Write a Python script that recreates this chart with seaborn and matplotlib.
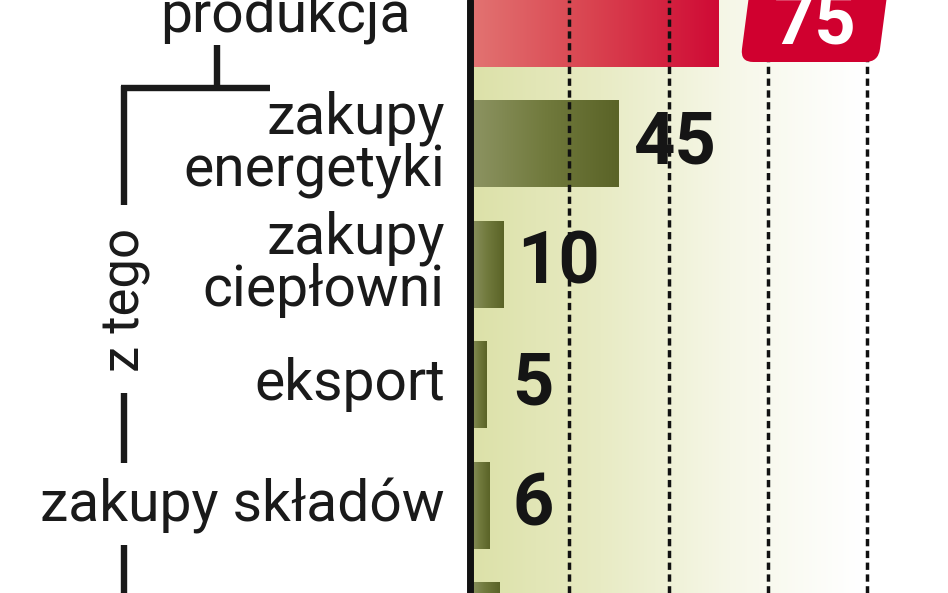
import numpy as np
import matplotlib
matplotlib.use("Agg")
import matplotlib.pyplot as plt
from matplotlib.colors import LinearSegmentedColormap
from matplotlib.patches import FancyBboxPatch
from matplotlib.lines import Line2D
from matplotlib.transforms import Affine2D, IdentityTransform
import seaborn as sns

# data (mln ton)
categories = ['produkcja', 'zakupy\nenergetyki', 'zakupy\nciepłowni',
              'eksport', 'zakupy składów', '']
values = [75, 45, 10, 5, 6, 9]
grid_ticks = [30, 60, 90, 120]
bracket_text = 'z tego'

sns.set_style('white')
plt.rcParams['font.family'] = ['Roboto', 'DejaVu Sans']

W, H = 948, 593
fig = plt.figure(figsize=(W / 100, H / 100), dpi=100)
ax = fig.add_axes([0, 0, 1, 1])

# layout: axis at x=470 px, 3.31 px per unit, rows every 120.5 px
k = 3.31
x0_px = 470
row0 = 23.5
row_h = 120.5
xlim = (-x0_px / k, (W - x0_px) / k)
ylim = ((H - row0) / row_h, -row0 / row_h)

sns.barplot(x=values, y=list(range(len(values))), orient='h', color='#6b7436',
            width=0.718, linewidth=0, ax=ax, zorder=2)
ax.set_axis_off()

# background gradient
bg = LinearSegmentedColormap.from_list('bg', ['#dce1a8', '#e8ebc4', '#f6f7e8', '#ffffff'])
ax.imshow(np.linspace(0, 1, 256).reshape(1, -1), cmap=bg, aspect='auto',
          extent=[0, 118, ylim[0], ylim[1]], zorder=0)

# bar gradients
red = LinearSegmentedColormap.from_list('red', ['#e27472', '#d9424f', '#cf0a35'])
green = LinearSegmentedColormap.from_list('green', ['#8d9463', '#717a3d', '#5a6327'])
for i, p in enumerate(ax.patches):
    cm = red if i == 0 else green
    x, y, w, h = p.get_x(), p.get_y(), p.get_width(), p.get_height()
    ax.imshow(np.linspace(0, 1, 256).reshape(1, -1), cmap=cm, aspect='auto',
              extent=[x, x + w, y + h, y], zorder=2.5)
ax.set_ylim(*ylim)
ax.set_xlim(*xlim)

# axis line and dashed grid
ax.axvline(0, color='#111111', lw=5, zorder=4)
for t in grid_ticks:
    ax.axvline(t, color='#111111', lw=2.5, linestyle=(0, (2.1, 1.3)), zorder=3)

# value labels
num_font = dict(fontsize=52, fontweight='bold', family=['Roboto', 'DejaVu Sans'])
for i, v in enumerate(values[1:-1], start=1):
    ax.annotate(str(v), xy=(max(v, 8.5), i), xytext=(14, 0), textcoords='offset pixels',
                ha='left', va='center', color='#151515', zorder=5, **num_font)

# red tab with the total
vx = ax.transData.transform((values[0], 0))[0]
bx0 = vx + 22
bw, by0 = 138, H - 62
tab = FancyBboxPatch((bx0, by0), bw, 120, boxstyle='round,pad=0,rounding_size=13',
                     facecolor='#d0002f', edgecolor='none', zorder=6,
                     transform=Affine2D().translate(-bx0, -by0).skew_deg(7.5, 0)
                     .translate(bx0, by0) + IdentityTransform())
fig.patches.append(tab)
fig.text((bx0 + bw / 2 + 6) / W, 1 - row0 / H, str(values[0]), color='white',
         ha='center', va='center', zorder=7, **num_font)

# category labels
lab_font = dict(fontsize=41, color='#1a1a1a')
for i, c in enumerate(categories[1:-1], start=1):
    ax.annotate(c, xy=(0, i), xytext=(-25, 0), textcoords='offset pixels',
                ha='right', va='center', linespacing=0.92, **lab_font)
fig.text(285 / W, 1 - 32 / H, categories[0], ha='center', va='baseline', **lab_font)

# bracket on the left
def seg(xs, ys):
    fig.lines.append(Line2D([x / W for x in xs], [1 - y / H for y in ys],
                            transform=fig.transFigure, color='#1a1a1a', lw=4.6,
                            solid_capstyle='butt'))

seg([217, 217], [45, 88])
seg([121, 270], [88, 88])
seg([124, 124], [86, 205])
seg([124, 124], [393, 463])
seg([124, 124], [545, 600])
fig.text(126 / W, 1 - 300 / H, bracket_text, rotation=90, ha='center', va='center',
         fontsize=38, color='#1a1a1a')

fig.savefig('out.png', dpi=100)
